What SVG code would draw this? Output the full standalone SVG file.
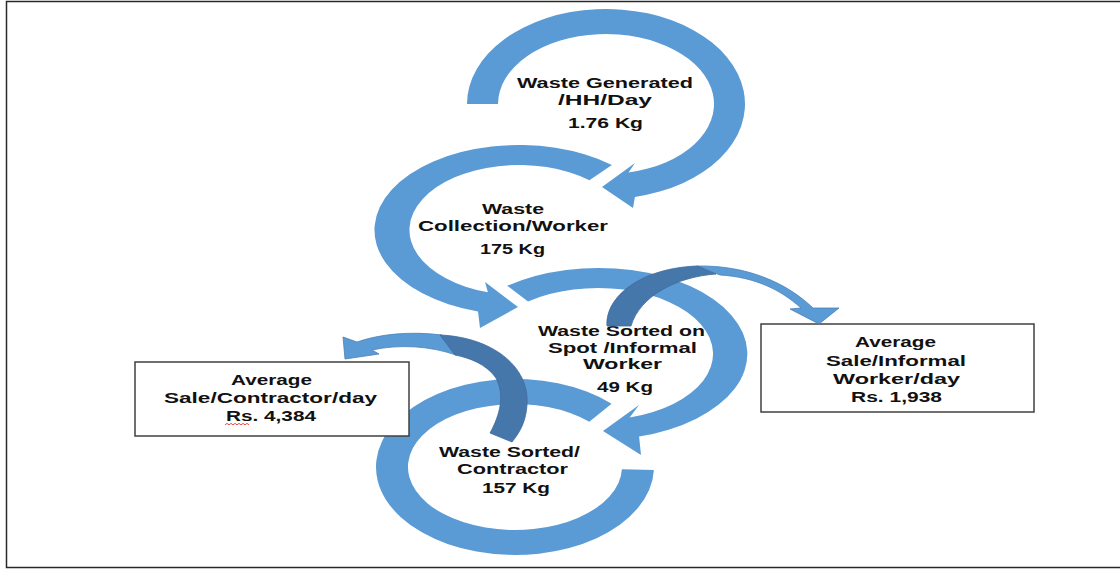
<svg xmlns="http://www.w3.org/2000/svg" width="1120" height="569" viewBox="0 0 1120 569">
<style>
.ring{fill:#5b9bd5;}
.lite{fill:#5b9bd5;stroke:#4a80b8;stroke-width:0.8;}
.dark{fill:#4677ab;stroke:#3d6b9c;stroke-width:0.8;}
.box{fill:#ffffff;stroke:#404040;stroke-width:1.5;}
text{font-family:"Liberation Sans",Arial,sans-serif;font-weight:bold;font-size:14px;fill:#111;text-anchor:middle;}
</style>
<rect x="0" y="0" width="1120" height="569" fill="#ffffff"/>
<path d="M1120,1.5 H6.5 V567.5 H1120" fill="none" stroke="#2a2a2a" stroke-width="1.5"/>

<g id="node-generated">
<path class="ring" d="M467,104 A139 95 0 1 1 634.9,196.9 L633,208 L602,187 L635,163 L628.5,172.5 A108 70 0 1 0 498,104 Z"/>
<text x="605" y="88" textLength="176" lengthAdjust="spacingAndGlyphs">Waste Generated</text>
<text x="605" y="105" textLength="94" lengthAdjust="spacingAndGlyphs">/HH/Day</text>
<text x="605.5" y="128" textLength="75" lengthAdjust="spacingAndGlyphs">1.76 Kg</text>
</g>

<g id="node-collection">
<path class="ring" d="M611.9,164.9 A144.5 85 0 1 0 478,311.5 L480,328 L518,307 L485,282 L487.9,292.3 A109.5 65 0 1 1 589.4,180.2 Z"/>
<text x="513" y="214" textLength="62" lengthAdjust="spacingAndGlyphs">Waste</text>
<text x="513" y="231" textLength="190" lengthAdjust="spacingAndGlyphs">Collection/Worker</text>
<text x="512.5" y="254" textLength="65" lengthAdjust="spacingAndGlyphs">175 Kg</text>
</g>

<g id="node-contractor">
<path class="ring" d="M611.6,403.7 A139 88 0 1 0 653.9,470.1 L621.9,469.2 A107 63 0 1 1 589.3,421.7 Z"/>
<text x="509.5" y="457" textLength="141" lengthAdjust="spacingAndGlyphs">Waste Sorted/</text>
<text x="512.5" y="474" textLength="111" lengthAdjust="spacingAndGlyphs">Contractor</text>
<text x="516" y="493" textLength="68" lengthAdjust="spacingAndGlyphs">157 Kg</text>
</g>

<g id="node-spot">
<path class="ring" d="M507.3,285.8 A149 86 0 1 1 639.1,436.6 L641,455 L603,431 L639,405 L629.7,417.4 A115 66 0 1 0 528,301.6 Z"/>
<text x="621.5" y="336" textLength="167" lengthAdjust="spacingAndGlyphs">Waste Sorted on</text>
<text x="622.5" y="353" textLength="149" lengthAdjust="spacingAndGlyphs">Spot /Informal</text>
<text x="622.5" y="369" textLength="79" lengthAdjust="spacingAndGlyphs">Worker</text>
<text x="625" y="392" textLength="56" lengthAdjust="spacingAndGlyphs">49 Kg</text>
</g>

<g id="node-sale-contractor">
<rect class="box" x="135" y="362" width="274" height="74"/>
<text x="271.5" y="385" textLength="81" lengthAdjust="spacingAndGlyphs">Average</text>
<text x="270.5" y="403" textLength="213" lengthAdjust="spacingAndGlyphs">Sale/Contractor/day</text>
<text x="271" y="421" textLength="90" lengthAdjust="spacingAndGlyphs">Rs. 4,384</text>
<path d="M225,424.8 l2,-1.4 l2,1.4 l2,-1.4 l2,1.4 l2,-1.4 l2,1.4 l2,-1.4 l2,1.4 l2,-1.4 l2,1.4 l2,-1.4 l2,1.4" fill="none" stroke="#e02020" stroke-width="0.8"/>
</g>

<g id="node-sale-informal">
<rect class="box" x="761" y="324" width="273" height="88"/>
<text x="895.5" y="347" textLength="81" lengthAdjust="spacingAndGlyphs">Average</text>
<text x="896" y="366" textLength="140" lengthAdjust="spacingAndGlyphs">Sale/Informal</text>
<text x="896.5" y="384" textLength="127" lengthAdjust="spacingAndGlyphs">Worker/day</text>
<text x="896.5" y="402" textLength="91" lengthAdjust="spacingAndGlyphs">Rs. 1,938</text>
</g>

<g id="connectors">
<path class="lite" d="M697,266 C747,265 787,283 813,308 L839,308 L819,324 L790,309 L801,308 C781,290 755,277 720,275 Z"/>
<path class="dark" d="M607,326 C605,296 642,268 697,266 L716,274 C676,277 640,296 631,326 Z"/>
<path class="lite" d="M343,337 L357,342 C380,334 410,331 442,335 L456,355 C430,346 400,344 372,350 L379,354 L345,359 Z"/>
<path class="dark" d="M440,335 C490,337 530,365 527,405 C526,420 521,431 512,442 L490,433 C500,415 505,395 496,378 C486,364 470,358 455,355 Z"/>
</g>
</svg>
